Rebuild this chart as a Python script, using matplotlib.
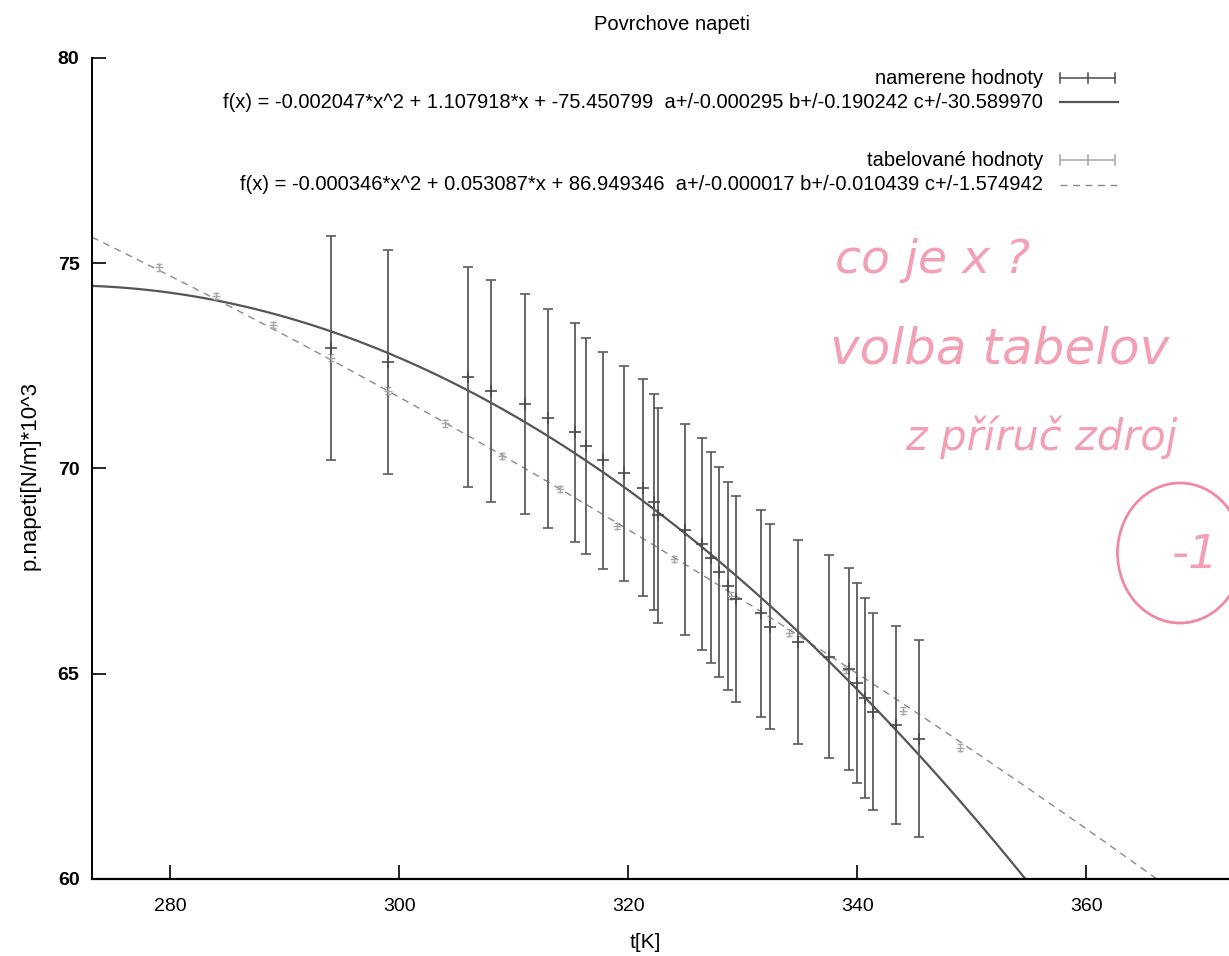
import numpy as np
import matplotlib
matplotlib.use("Agg")
import matplotlib.pyplot as plt
from matplotlib.lines import Line2D
from matplotlib.patches import Ellipse

plt.rcParams['font.family'] = ['Liberation Sans', 'DejaVu Sans']

# namerene hodnoty (measured), t in K, sigma in N/m * 10^3
t_meas = [294.0, 299.0, 306.0, 308.0, 311.0, 313.0, 315.3, 316.3, 317.8, 319.6,
          321.3, 322.2, 322.6, 324.9, 326.4, 327.2, 327.9, 328.7, 329.4, 331.6,
          332.4, 334.8, 337.5, 339.3, 340.0, 340.7, 341.4, 343.4, 345.4]
sigma_meas = [72.94, 72.60, 72.23, 71.89, 71.57, 71.22, 70.88, 70.55, 70.20, 69.88,
              69.53, 69.18, 68.86, 68.51, 68.16, 67.83, 67.48, 67.14, 66.82, 66.47,
              66.15, 65.78, 65.42, 65.12, 64.78, 64.41, 64.08, 63.75, 63.42]
err_meas = [2.73, 2.73, 2.68, 2.71, 2.68, 2.67, 2.67, 2.63, 2.65, 2.62,
            2.64, 2.63, 2.62, 2.57, 2.58, 2.57, 2.56, 2.54, 2.51, 2.52,
            2.50, 2.49, 2.47, 2.46, 2.44, 2.44, 2.40, 2.41, 2.40]

# tabelovane hodnoty (tabulated)
t_tab = [279, 284, 289, 294, 299, 304, 309, 314, 319, 324, 329, 334, 339, 344, 349]
sigma_tab = [74.9, 74.2, 73.5, 72.7, 71.9, 71.1, 70.3, 69.5, 68.6, 67.8,
             66.9, 66.0, 65.1, 64.1, 63.2]
err_tab = [0.08] * len(t_tab)

# fit coefficients a, b, c as printed in the key
fit_meas = [-0.002047, 1.107918, -75.450799]
fit_tab = [-0.000346, 0.053087, 86.949346]
label_meas = "f(x) = -0.002047*x^2 + 1.107918*x + -75.450799  a+/-0.000295 b+/-0.190242 c+/-30.589970"
label_tab = "f(x) = -0.000346*x^2 + 0.053087*x + 86.949346  a+/-0.000017 b+/-0.010439 c+/-1.574942"

W, H = 1229, 956


def fx(px):
    return px / W


def fy(py):
    return 1 - py / H


fig = plt.figure(figsize=(W / 100, H / 100), dpi=100)
ax = fig.add_axes([fx(92), fy(879), fx(1145), 821 / H])
ax.set_xlim(273.15, 373.15)
ax.set_ylim(60, 80)

tt = np.linspace(273.15, 373.15, 101)
ax.plot(tt, np.polyval(fit_tab, tt), color='#8a8a8a', lw=1.0, ls=(0, (5, 4)))
ax.plot(tt, np.polyval(fit_meas, tt), color='#555555', lw=1.6)
ax.errorbar(t_tab, sigma_tab, yerr=err_tab, fmt='+', color='#a8a8a8',
            ms=6, mew=1.0, elinewidth=0.8, capsize=2)
ax.errorbar(t_meas, sigma_meas, yerr=err_meas, fmt='+', color='#4a4a4a',
            ecolor='#5c5c5c', ms=8, mew=1.2, elinewidth=1.3, capsize=3.5, capthick=1.2)

ax.spines['top'].set_visible(False)
ax.spines['right'].set_visible(False)
ax.spines['left'].set_linewidth(1.4)
ax.spines['bottom'].set_linewidth(1.6)
ax.set_xticks([280, 300, 320, 340, 360])
ax.set_yticks([60, 65, 70, 75, 80])
ax.tick_params(direction='in', length=10, width=1.2, labelsize=14)
ax.tick_params(axis='x', pad=14)
ax.tick_params(axis='y', pad=9)
for lab in ax.get_yticklabels():
    lab.set_fontweight('bold')

fig.text(fx(672), fy(25), 'Povrchove napeti', ha='center', va='center', fontsize=14.5)
fig.text(fx(645), fy(943), 't[K]', ha='center', va='center', fontsize=15)
fig.text(fx(30), fy(475), 'p.napeti[N/m]*10^3', ha='center', va='center',
         rotation=90, fontsize=16)


# gnuplot style key, drawn in figure coordinates
def key_errorbar(y, color):
    x0, x1, yy = fx(1060), fx(1115), fy(y)
    h = 5 / H
    for xs, ys in [([x0, x1], [yy, yy]), ([x0, x0], [yy - h, yy + h]),
                   ([x1, x1], [yy - h, yy + h]), ([(x0 + x1) / 2] * 2, [yy - h, yy + h])]:
        fig.add_artist(Line2D(xs, ys, color=color, lw=1.1, transform=fig.transFigure))


def key_line(y, **kw):
    fig.add_artist(Line2D([fx(1060), fx(1118)], [fy(y), fy(y)],
                          transform=fig.transFigure, **kw))


key_fs = 14.5
fig.text(fx(1043), fy(78), 'namerene hodnoty', ha='right', va='center', fontsize=key_fs)
key_errorbar(78, '#4a4a4a')
fig.text(fx(1043), fy(102), label_meas, ha='right', va='center', fontsize=key_fs)
key_line(102, color='#555555', lw=1.6)
fig.text(fx(1043), fy(160), 'tabelované hodnoty', ha='right', va='center', fontsize=key_fs)
key_errorbar(160, '#a8a8a8')
fig.text(fx(1043), fy(185), label_tab, ha='right', va='center', fontsize=key_fs)
key_line(185, color='#8a8a8a', lw=1.0, ls=(0, (5, 4)))

# teacher's handwritten notes
pink = '#f2a0b6'
fig.text(fx(835), fy(273), 'co je x ?', fontsize=34, color=pink, style='italic',
         family='DejaVu Sans', fontweight='light')
fig.text(fx(830), fy(363), 'volba tabelov', fontsize=36, color=pink, style='italic',
         family='DejaVu Sans', fontweight='light')
fig.text(fx(905), fy(450), 'z příruč zdroj', fontsize=30, color=pink, style='italic',
         family='DejaVu Sans', fontweight='light')
fig.add_artist(Ellipse((fx(1180), fy(553)), 125 / W, 140 / H, fill=False,
                       edgecolor='#ee8aa4', lw=2, transform=fig.transFigure))
fig.text(fx(1195), fy(555), '-1', fontsize=34, color=pink, ha='center', va='center',
         style='italic', family='DejaVu Sans')

fig.savefig('out.png', dpi=100)
